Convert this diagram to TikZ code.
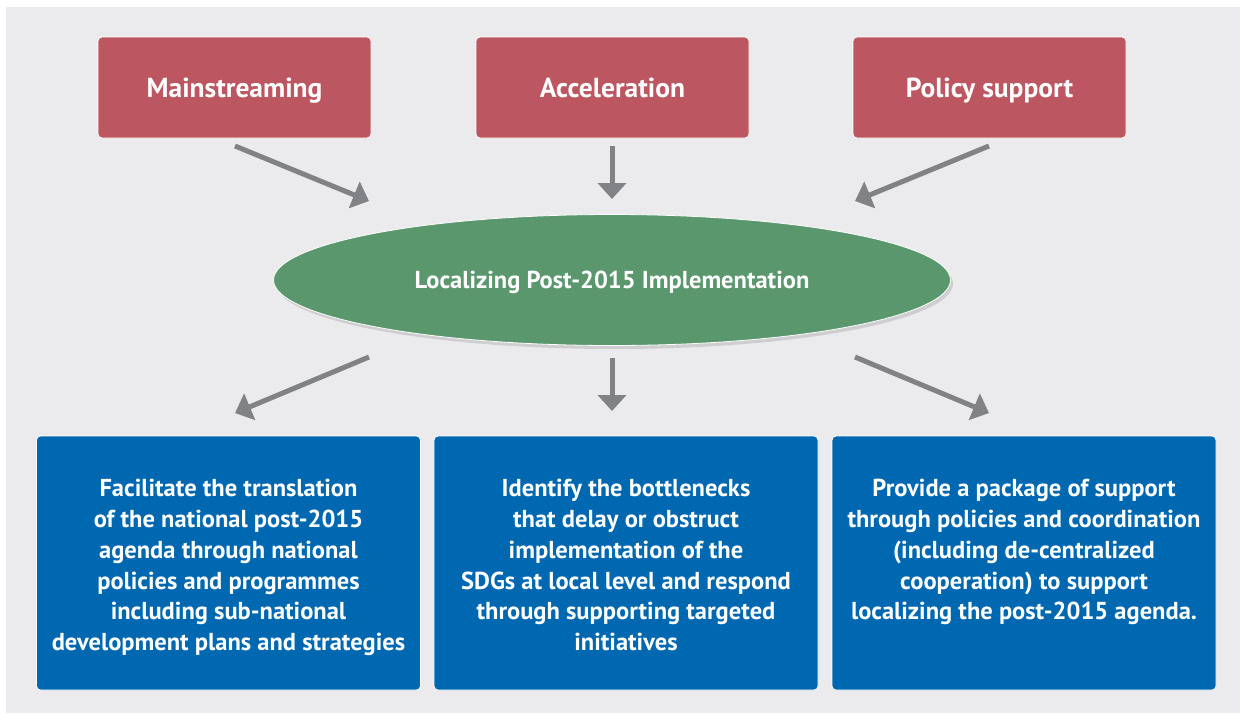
\documentclass[tikz,border=0pt]{standalone}
\usepackage{fontspec}
\setmainfont{PT Sans}
\usetikzlibrary{arrows.meta,shapes.geometric,shadows}
\definecolor{bggrey}{HTML}{EBEBED}
\definecolor{boxred}{HTML}{BC5661}
\definecolor{boxgreen}{HTML}{5A976D}
\definecolor{boxblue}{HTML}{0067B1}
\definecolor{arrgrey}{HTML}{808285}
\tikzset{
  topbox/.style={draw=white, line width=0.8pt, fill=boxred, rounded corners=4pt,
    minimum width=273pt, minimum height=101pt, inner sep=0pt, text=white,
    text height=19pt, text depth=0pt,
    font=\fontsize{27.5}{30}\selectfont\bfseries},
  botbox/.style={draw=white, line width=0.8pt, fill=boxblue, rounded corners=4pt,
    minimum width=384pt, minimum height=254pt, inner sep=0pt},
  bodytext/.style={text=white, align=center, inner sep=0pt, anchor=north,
    font=\fontsize{24.5}{30.8}\selectfont\bfseries},
  flowarrow/.style={draw=arrgrey, line width=5pt, -{Triangle[length=16pt,width=28pt]}},
}
\begin{document}
\begin{tikzpicture}[x=1pt,y=-1pt]
\useasboundingbox (0,0) rectangle (1240,715);
\fill[bggrey] (6,7) rectangle (1240,713);
% top boxes
\node[topbox] (m) at (234.5,87.5) {Mainstreaming};
\node[topbox] (a) at (612.5,87.5) {Acceleration};
\node[topbox] (p) at (989.5,87.5) {Policy support};
% ellipse
\node[ellipse, draw=white, line width=0.8pt, fill=boxgreen, minimum width=677pt, minimum height=131pt,
  drop shadow={shadow xshift=2.5pt, shadow yshift=-3.5pt, fill=black, opacity=0.12},
  text height=17pt, text depth=0pt, inner sep=0pt,
  text=white, font=\fontsize{24.5}{26}\selectfont\bfseries] (e) at (612,280) {Localizing Post-2015 Implementation};
% bottom boxes
\node[botbox] (b1) at (228.5,563) {};
\node[botbox] (b2) at (626,563) {};
\node[botbox] (b3) at (1024,563) {};
\node[bodytext] (t1) at (228.5,479) {Facilitate the translation\\ of the national post-2015\\ agenda through national\\ policies and programmes\\ including sub-national\\ development plans and strategies};
\node[bodytext] (t2) at (626,479) {Identify the bottlenecks\\ that delay or obstruct\\ implementation of the\\ SDGs at local level and respond\\ through supporting targeted\\ initiatives};
\node[bodytext] (t3) at (1024,479) {Provide a package of support\\ through policies and coordination\\ (including de-centralized\\ cooperation) to support\\ localizing the post-2015 agenda.};
% arrow coordinates
\coordinate (ms) at (235,146);
\coordinate (me) at (369,201);
\coordinate (as) at (612,146);
\coordinate (ae) at (612,199);
\coordinate (ps) at (989,146);
\coordinate (pe) at (855,201);
\coordinate (l1s) at (369,357);
\coordinate (l1e) at (235,413);
\coordinate (l2s) at (612,358);
\coordinate (l2e) at (612,411);
\coordinate (l3s) at (855,357);
\coordinate (l3e) at (989,413);
\draw[flowarrow] (ms) -- (me);
\draw[flowarrow] (as) -- (ae);
\draw[flowarrow] (ps) -- (pe);
\draw[flowarrow] (l1s) -- (l1e);
\draw[flowarrow] (l2s) -- (l2e);
\draw[flowarrow] (l3s) -- (l3e);
\end{tikzpicture}
\end{document}
